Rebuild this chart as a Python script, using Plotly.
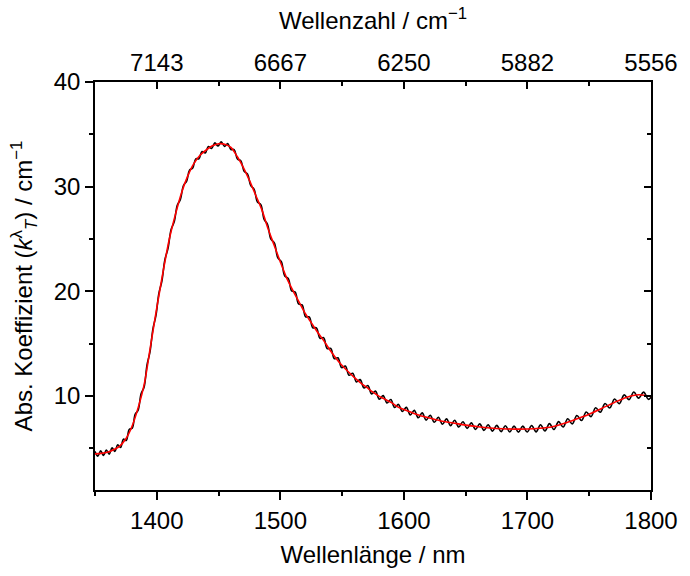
import plotly.graph_objects as go

# ---- data ----
# smooth fit (red), wavelength in nm, absorption coefficient in cm^-1
wl_fit = [1350, 1355, 1360, 1365, 1370, 1375, 1380, 1385, 1390, 1395, 1400, 1405, 1410, 1415,
          1420, 1425, 1430, 1435, 1440, 1445, 1450, 1455, 1460, 1465, 1470, 1475, 1480, 1485,
          1490, 1495, 1500, 1505, 1510, 1515, 1520, 1525, 1530, 1535, 1540, 1545, 1550, 1555,
          1560, 1565, 1570, 1575, 1580, 1585, 1590, 1595, 1600, 1610, 1620, 1630, 1640, 1650,
          1660, 1670, 1680, 1690, 1700, 1710, 1720, 1730, 1740, 1750, 1760, 1770, 1780, 1790, 1800]
k_fit = [4.45, 4.5, 4.6, 4.85, 5.2, 5.9, 7.1, 8.9, 11.2, 14.8, 18.4, 21.8, 24.9, 27.3,
         29.4, 31.0, 32.2, 33.0, 33.5, 33.9, 34.1, 34.05, 33.75, 32.9, 31.85, 30.6, 29.2, 27.8,
         26.0, 24.4, 22.8, 21.3, 20.1, 19.0, 17.9, 17.0, 16.1, 15.3, 14.4, 13.6, 12.9, 12.3,
         11.75, 11.25, 10.8, 10.35, 9.95, 9.65, 9.35, 8.95, 8.7, 8.25, 7.9, 7.6, 7.4, 7.2,
         7.05, 6.93, 6.86, 6.82, 6.83, 6.9, 7.05, 7.38, 7.8, 8.25, 8.8, 9.35, 9.85, 10.1, 9.95]

# measured spectrum (black), read at the fringe maxima / minima
measured = [
    (1350.0, 4.69), (1352.3, 4.23), (1354.6, 4.74), (1356.9, 4.30), (1359.2, 4.82),
    (1361.5, 4.43), (1363.8, 5.03), (1366.1, 4.69), (1368.4, 5.33), (1370.7, 5.06),
    (1373.0, 5.86), (1375.3, 5.73), (1377.7, 6.79), (1380.1, 6.90), (1382.5, 8.24),
    (1384.9, 8.62), (1387.3, 10.2), (1389.7, 10.82), (1392.1, 12.95), (1394.5, 14.2),
    (1396.9, 16.41), (1399.3, 17.66), (1401.7, 19.8), (1404.1, 20.95), (1406.6, 23.03),
    (1409.1, 24.1), (1411.6, 25.91), (1414.1, 26.63), (1416.6, 28.21), (1419.1, 28.78),
    (1421.6, 30.11), (1424.1, 30.51), (1426.6, 31.58), (1429.1, 31.78), (1431.6, 32.66),
    (1434.1, 32.66), (1436.6, 33.36), (1439.2, 33.22), (1441.8, 33.84), (1444.4, 33.65),
    (1447.0, 34.18), (1449.6, 33.88), (1452.2, 34.28), (1454.8, 33.85), (1457.4, 34.11),
    (1460.0, 33.55), (1462.6, 33.54), (1465.3, 32.64), (1468.0, 32.47), (1470.7, 31.47),
    (1473.4, 31.2), (1476.1, 30.09), (1478.8, 29.74), (1481.5, 28.52), (1484.2, 28.28),
    (1486.9, 26.86), (1489.6, 26.4), (1492.4, 24.97), (1495.2, 24.6), (1498.0, 23.18),
    (1500.8, 22.82), (1503.6, 21.46), (1506.4, 21.22), (1509.2, 20.03), (1512.0, 19.92),
    (1514.8, 18.78), (1517.6, 18.69), (1520.5, 17.55), (1523.4, 17.55), (1526.3, 16.51),
    (1529.2, 16.5), (1532.1, 15.5), (1535.0, 15.56), (1537.9, 14.52), (1540.8, 14.53),
    (1543.7, 13.55), (1546.6, 13.64), (1549.6, 12.7), (1552.6, 12.85), (1555.6, 11.97),
    (1558.6, 12.16), (1561.6, 11.33), (1564.6, 11.55), (1567.7, 10.75), (1570.8, 10.99),
    (1573.9, 10.19), (1577.0, 10.45), (1580.1, 9.68), (1583.2, 10.02), (1586.3, 9.31),
    (1589.4, 9.65), (1592.5, 8.89), (1595.6, 9.18), (1598.8, 8.5), (1602.0, 8.9),
    (1605.2, 8.18), (1608.4, 8.61), (1611.6, 7.9), (1614.8, 8.37), (1618.0, 7.68),
    (1621.3, 8.15), (1624.6, 7.47), (1627.9, 7.95), (1631.2, 7.29), (1634.5, 7.8),
    (1637.8, 7.15), (1641.1, 7.67), (1644.4, 7.02), (1647.8, 7.53), (1651.2, 6.89),
    (1654.6, 7.42), (1658.0, 6.79), (1661.4, 7.32), (1664.8, 6.7), (1668.2, 7.24),
    (1671.7, 6.63), (1675.2, 7.18), (1678.7, 6.58), (1682.2, 7.14), (1685.7, 6.55),
    (1689.2, 7.11), (1692.7, 6.53), (1696.2, 7.11), (1699.8, 6.54), (1703.4, 7.17),
    (1707.0, 6.56), (1710.6, 7.23), (1714.2, 6.64), (1717.8, 7.34), (1721.5, 6.78),
    (1725.2, 7.54), (1728.9, 7.02), (1732.6, 7.81), (1736.3, 7.32), (1740.0, 8.12),
    (1743.8, 7.65), (1747.6, 8.46), (1751.4, 8.01), (1755.2, 8.86), (1759.0, 8.43),
    (1762.8, 9.27), (1766.6, 8.84), (1770.5, 9.7), (1774.4, 9.25), (1778.3, 10.09),
    (1782.2, 9.64), (1786.1, 10.37), (1790.0, 9.78), (1794.0, 10.36), (1798.0, 9.66),
    (1802.0, 10.27),
]
wl_meas = [p[0] for p in measured]
k_meas = [p[1] for p in measured]

# axis ticks
wl_ticks = [1400, 1500, 1600, 1700, 1800]
wl_minor = [1350, 1450, 1550, 1650, 1750]
wn_labels = ["7143", "6667", "6250", "5882", "5556"]
k_ticks = [10, 20, 30, 40]
k_minor = [5, 15, 25, 35]

x_range = [1350, 1800]
y_range = [1, 40]

FONT = "Liberation Sans, Arial, Helvetica, sans-serif"

fig = go.Figure()
fig.add_trace(go.Scatter(x=wl_meas, y=k_meas, mode="lines",
                         line=dict(color="black", width=1.6, shape="spline", smoothing=1.0),
                         showlegend=False, hoverinfo="skip"))
fig.add_trace(go.Scatter(x=wl_fit, y=k_fit, mode="lines", xaxis="x2", yaxis="y2",
                         line=dict(color="#ff0000", width=1.6, shape="spline", smoothing=0.8),
                         showlegend=False, hoverinfo="skip"))

axis_common = dict(showline=True, linecolor="black", linewidth=1.5, showgrid=False,
                   zeroline=False, tickcolor="black", tickwidth=1.5,
                   tickfont=dict(family=FONT, size=24, color="black"))

fig.update_layout(
    width=690, height=576,
    margin=dict(l=95, r=30, t=82, b=81),
    paper_bgcolor="white", plot_bgcolor="white",
    font=dict(family=FONT, size=24, color="black"),
    xaxis=dict(range=x_range, tickmode="array", tickvals=wl_ticks, ticks="outside", ticklen=8,
               minor=dict(tickmode="array", tickvals=wl_minor, ticks="outside", ticklen=4,
                          tickcolor="black", tickwidth=1.5),
               title=dict(text="Wellenlänge / nm", standoff=14,
                          font=dict(family=FONT, size=24, color="black")),
               **axis_common),
    yaxis=dict(range=y_range, tickmode="array", tickvals=k_ticks, ticks="outside", ticklen=8,
               minor=dict(tickmode="array", tickvals=k_minor, ticks="outside", ticklen=4,
                          tickcolor="black", tickwidth=1.5),
               title=dict(text="Abs. Koeffizient (<i>k</i><sup>λ</sup><sub><i>T</i></sub>) / cm<sup>−1</sup>",
                          standoff=14, font=dict(family=FONT, size=24, color="black")),
               **axis_common),
    xaxis2=dict(range=x_range, overlaying="x", side="top", anchor="y2",
                tickmode="array", tickvals=wl_ticks, ticktext=wn_labels,
                ticks="inside", ticklen=7,
                minor=dict(tickmode="array", tickvals=wl_minor, ticks="inside", ticklen=4,
                           tickcolor="black", tickwidth=1.5),
                title=dict(text="Wellenzahl / cm<sup>−1</sup>", standoff=12,
                           font=dict(family=FONT, size=24, color="black")),
                **axis_common),
    yaxis2=dict(range=y_range, overlaying="y", side="right", anchor="x2",
                tickmode="array", tickvals=k_ticks, ticks="inside", ticklen=7,
                showticklabels=False,
                minor=dict(tickmode="array", tickvals=k_minor, ticks="inside", ticklen=4,
                           tickcolor="black", tickwidth=1.5),
                **axis_common),
)

fig.write_html("out.html")
